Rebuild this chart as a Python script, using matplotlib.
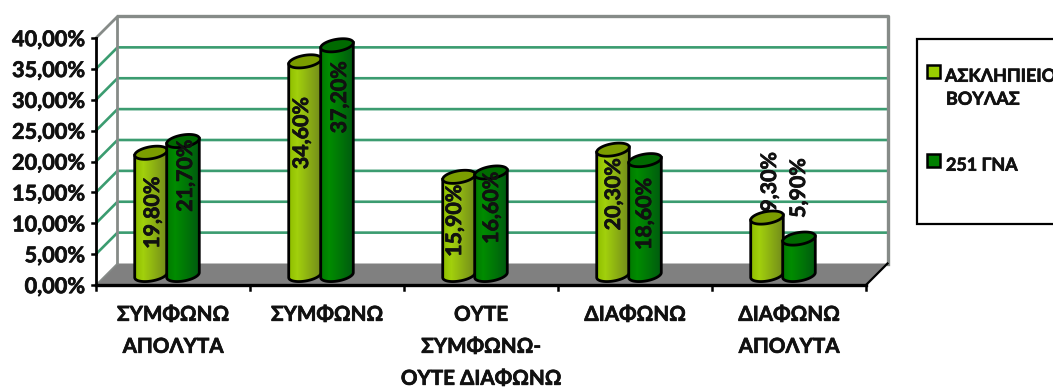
import numpy as np
import matplotlib
matplotlib.use('Agg')
import matplotlib.pyplot as plt
import matplotlib.patheffects as pe
from matplotlib.colors import to_rgb
from matplotlib.patches import Polygon, Rectangle, PathPatch
from matplotlib.path import Path

W, H = 1053, 387

categories = ['ΣΥΜΦΩΝΩ\nΑΠΟΛΥΤΑ', 'ΣΥΜΦΩΝΩ', 'ΟΥΤΕ\nΣΥΜΦΩΝΩ-\nΟΥΤΕ ΔΙΑΦΩΝΩ', 'ΔΙΑΦΩΝΩ', 'ΔΙΑΦΩΝΩ\nΑΠΟΛΥΤΑ']
asklipieio = [19.8, 34.6, 15.9, 20.3, 9.3]
gna = [21.7, 37.2, 16.6, 18.6, 5.9]
yticks = [0, 5, 10, 15, 20, 25, 30, 35, 40]

# where the rotated value labels sit: height in percent, sideways shift in pixels
label_y_a = [11.7, 24.6, 10.4, 14.7, 16.7]
label_y_g = [17.7, 30.4, 12.5, 11.5, 15.7]
label_dx_a = [-14, -19, -20, -15, -13]
label_dx_g = [19, 19, 17, 16, 16]

# autohinting thins the stems at fractional sizes, a thin stroke brings the weight back
plt.rcParams['text.hinting'] = 'no_hinting'
font = dict(family='Lato', weight='bold', color='#111111',
            path_effects=[pe.withStroke(linewidth=0.5, foreground='#111111')])

fig = plt.figure(figsize=(W / 100, H / 100), dpi=100)
left, right, bottom, top = 96, 866, 285, 38
ax = fig.add_axes([left / W, 1 - bottom / H, (right - left) / W, (bottom - top) / H])
ax.set_xlim(0, 5)
ax.set_ylim(0, 40)
ax.axis('off')

# size of one pixel in data units
px_x = 5 / (right - left)
px_y = 40 / (bottom - top)
depth_x = 21.5 * px_x
depth_y = 21.5 * px_y

wall_c = '#868b88'
grid_c = '#3b9c70'

# floor
ax.add_patch(Polygon([(0, 0), (5, 0), (5 + depth_x, depth_y), (depth_x, depth_y)],
                     facecolor='#808080', edgecolor='none', clip_on=False, zorder=1))

# gridlines on the side and back walls
for t in yticks[1:-1]:
    ax.plot([0, depth_x, 5 + depth_x], [t, t + depth_y, t + depth_y], color=grid_c, lw=1.9,
            clip_on=False, zorder=1, solid_joinstyle='miter')

# wall outline
ax.plot([0, depth_x, depth_x], [40, 40 + depth_y, depth_y], color=wall_c, lw=2, clip_on=False, zorder=2)
ax.plot([depth_x, 5 + depth_x, 5 + depth_x], [40 + depth_y, 40 + depth_y, depth_y], color=wall_c, lw=2.4,
        clip_on=False, zorder=2)
ax.plot([0, depth_x], [0, depth_y], color=wall_c, lw=1.2, clip_on=False, zorder=2)

# front edges of the axes
ax.plot([0, 0], [0, 40], color='black', lw=2, clip_on=False, zorder=3)
ax.plot([0, 5], [0, 0], color='black', lw=2.4, clip_on=False, zorder=3)
ax.plot([5, 5 + depth_x], [0, depth_y], color='black', lw=1.6, clip_on=False, zorder=3)
for t in yticks:
    ax.plot([-4 * px_x, 0], [t, t], color='black', lw=1.8, clip_on=False, zorder=3)
    ax.text(-11 * px_x, t, ('%.2f%%' % t).replace('.', ','), ha='right', va='center_baseline', fontsize=15.6, **font)
for i in range(6):
    ax.plot([i, i], [0, -5 * px_y], color='black', lw=1.8, clip_on=False, zorder=3)


def ellipse_points(cx, cy, tilt=10, n=240, w=16.5, h=6):
    th = np.linspace(0, 2 * np.pi, n)
    ex = w * np.cos(th)
    ey = h * np.sin(th)
    r = np.radians(tilt)
    xs = ex * np.cos(r) - ey * np.sin(r)
    ys = ex * np.sin(r) + ey * np.cos(r)
    return cx + xs * px_x, cy + ys * px_y


def cylinder(cx, value, colors, c_top, z):
    base = 10 * px_y
    top_y = base + value
    bx, by = ellipse_points(cx, base)
    tx, ty = ellipse_points(cx, top_y)
    # body outline: lower arc of the base ellipse, straight up both sides
    a, b = np.argmin(bx), np.argmax(bx)
    body_x = list(bx[a:b + 1]) + [bx[b], bx[a]]
    body_y = list(by[a:b + 1]) + [by[b] + value, by[a] + value]
    verts = list(zip(body_x, body_y))
    clip = PathPatch(Path(verts + [verts[0]]), transform=ax.transData, facecolor='none', edgecolor='none')
    ax.add_patch(clip)
    # shading across the body, brightest a quarter of the way in
    stops = np.array([to_rgb(c) for c in colors])
    pos = np.linspace(0, 1, 64)
    rgb = np.stack([np.interp(pos, [0, 0.25, 1], stops[:, k]) for k in range(3)], axis=-1)[np.newaxis, :, :]
    im = ax.imshow(rgb, extent=[bx.min(), bx.max(), 0, top_y + 1], aspect='auto', zorder=z,
                   interpolation='bilinear')
    im.set_clip_path(clip)
    ax.add_patch(Polygon(verts, closed=True, facecolor='none', edgecolor='black', lw=2, zorder=z + 0.1,
                         clip_on=False))
    ax.add_patch(Polygon(np.column_stack([tx, ty]), closed=True, facecolor=c_top, edgecolor='black', lw=2,
                         zorder=z + 0.2, clip_on=False))


for i in range(5):
    cx = i + 0.5 - 6 * px_x
    cylinder(cx - 16 * px_x, asklipieio[i], ['#8fbe00', '#a2d00c', '#71891c'], '#7b9d00', 4)
    cylinder(cx + 16 * px_x, gna[i], ['#007a00', '#008c00', '#005a10'], '#006a00', 5)
    # a label standing above its bar goes behind the cap
    za = 3.5 if label_y_a[i] > asklipieio[i] else 8
    ax.text(cx + label_dx_a[i] * px_x, label_y_a[i], ('%.2f%%' % asklipieio[i]).replace('.', ','), rotation=90,
            ha='center', va='center', fontsize=15.4, zorder=za, **font)
    ax.text(cx + label_dx_g[i] * px_x, label_y_g[i], ('%.2f%%' % gna[i]).replace('.', ','), rotation=90,
            ha='center', va='center', fontsize=15.4, zorder=8, **font)
    for k, line in enumerate(categories[i].split('\n')):
        ax.text(i + 0.5, (-28 - 32 * k) * px_y, line, ha='center', va='center_baseline', fontsize=14.8, **font)

ax.set_xlim(0, 5)
ax.set_ylim(0, 40)


# legend box is placed in figure pixels
def fx(x):
    return x / W


def fy(y):
    return 1 - y / H


fig.add_artist(Rectangle((fx(917), fy(224)), (1060 - 917) / W, 185 / H, transform=fig.transFigure,
                         facecolor='white', edgecolor='black', lw=1.6))
for y, c in [(71, '#99cc00'), (160, '#008000')]:
    fig.add_artist(Rectangle((fx(927), fy(y + 7)), 13 / W, 13 / H, transform=fig.transFigure,
                             facecolor=c, edgecolor='black', lw=1.8))
fig.text(fx(945), fy(75), 'ΑΣΚΛΗΠΙΕΙΟ', ha='left', va='center_baseline', fontsize=12.9, **font)
fig.text(fx(946), fy(98), 'ΒΟΥΛΑΣ', ha='left', va='center_baseline', fontsize=12.9, **font)
fig.text(fx(946), fy(164), '251 ΓΝΑ', ha='left', va='center_baseline', fontsize=12.9, **font)

fig.savefig('out.png', dpi=100)
